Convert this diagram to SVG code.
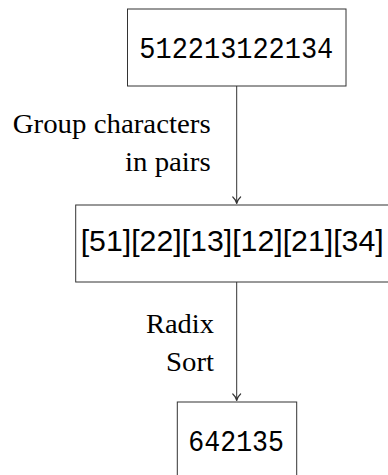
<svg xmlns="http://www.w3.org/2000/svg" width="388" height="475" viewBox="0 0 388 475">
<style>
.box{fill:#fff;stroke:#333;stroke-width:1}
.mono{font-family:"Liberation Mono","DejaVu Sans Mono",monospace;font-size:30px;fill:#000}
.sans{font-family:"Liberation Sans","DejaVu Sans",sans-serif;font-size:29px;fill:#000}
.lbl{font-family:"Liberation Serif","DejaVu Serif",serif;font-size:27.5px;fill:#000;text-anchor:end}
.edge{stroke:#333;stroke-width:1;fill:none}
.tip{stroke:#333;stroke-width:1.2;fill:none;stroke-linecap:round}
</style>
<rect width="388" height="475" fill="#fff"/>
<g id="connectors">
<line class="edge" x1="236.7" y1="86" x2="236.7" y2="204"/>
<path class="tip" d="M232.8,197 Q236,199.8 236.7,203.5 Q237.4,199.8 240.6,197"/>
<line class="edge" x1="236.7" y1="282" x2="236.7" y2="401"/>
<path class="tip" d="M232.8,394 Q236,396.8 236.7,400.5 Q237.4,396.8 240.6,394"/>
<text class="lbl" x="210.7" y="133.3" textLength="198" lengthAdjust="spacingAndGlyphs">Group characters</text>
<text class="lbl" x="210.7" y="171.3" textLength="85.7" lengthAdjust="spacingAndGlyphs">in pairs</text>
<text class="lbl" x="214" y="333.3" textLength="68" lengthAdjust="spacingAndGlyphs">Radix</text>
<text class="lbl" x="214" y="370.7" textLength="48" lengthAdjust="spacingAndGlyphs">Sort</text>
</g>
<g id="node1">
<rect class="box" x="127.5" y="9" width="218.5" height="77"/>
<text class="mono" x="139.3" y="58.3" textLength="194" lengthAdjust="spacingAndGlyphs">512213122134</text>
</g>
<g id="node2">
<rect class="box" x="75.7" y="205" width="322" height="77"/>
<text class="sans" x="80.7" y="251" textLength="303" lengthAdjust="spacingAndGlyphs">[51][22][13][12][21][34]</text>
</g>
<g id="node3">
<rect class="box" x="177.3" y="402" width="119.4" height="77"/>
<text class="mono" x="188.3" y="450.7" textLength="95.7" lengthAdjust="spacingAndGlyphs">642135</text>
</g>
</svg>
